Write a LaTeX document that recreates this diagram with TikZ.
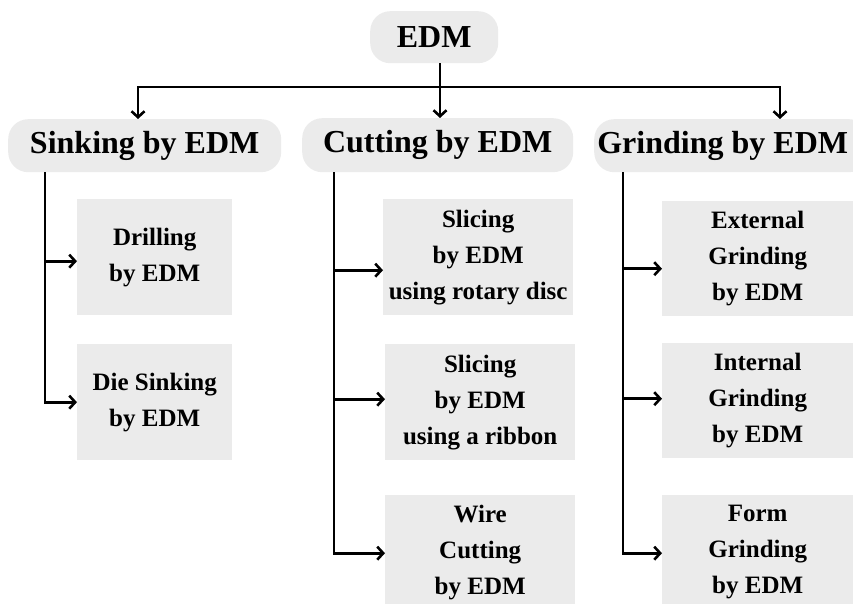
\documentclass[tikz,border=0pt]{standalone}
\usepackage{fontspec}
\setmainfont{Liberation Serif}
\usetikzlibrary{arrows.meta}
\definecolor{boxgray}{HTML}{EBEBEB}
\tikzset{
  x=1pt, y=1pt,
  pill/.style={fill=boxgray, rounded corners=20pt, inner sep=0pt, anchor=north west,
    font=\fontsize{32}{36}\selectfont\bfseries},
  leaf/.style={fill=boxgray, inner sep=0pt, anchor=north west, align=center,
    font=\fontsize{25}{36}\selectfont\bfseries},
  conn/.style={line width=2.8pt},
  arr/.style={line width=2.8pt, -{Straight Barb[length=6pt,width=13pt,line width=2.6pt]}},
  arrr/.style={line width=2.8pt, {Straight Barb[length=6pt,width=13pt,line width=2.6pt]}-{Straight Barb[length=6pt,width=13pt,line width=2.6pt]}}
}
\begin{document}
\begin{tikzpicture}
\useasboundingbox (0,0) rectangle (853,-604);
\clip (0,0) rectangle (853,-604);
% top
\node[pill, minimum width=128pt, minimum height=52pt] (edm) at (370,-11) {EDM};
% categories
\node[pill, minimum width=273pt, minimum height=53pt] (sink) at (8,-119) {Sinking by EDM};
\node[pill, minimum width=271pt, minimum height=54pt] (cut) at (302,-118) {Cutting by EDM};
\node[pill, minimum width=275pt, minimum height=53pt] (grind) at (594,-119) {\hspace*{-18pt}Grinding by EDM};
% sinking leaves
\node[leaf, minimum width=155pt, minimum height=116pt] (drill) at (77,-199) {Drilling\\by EDM};
\node[leaf, minimum width=155pt, minimum height=116pt] (die) at (77,-344) {Die Sinking\\by EDM};
% cutting leaves
\node[leaf, minimum width=190pt, minimum height=116pt] (sl1) at (383,-199) {Slicing\\by EDM\\using rotary disc};
\node[leaf, minimum width=190pt, minimum height=116pt] (sl2) at (385,-344) {Slicing\\by EDM\\using a ribbon};
\node[leaf, minimum width=190pt, minimum height=114pt] (wire) at (385,-495) {Wire\\Cutting\\by EDM};
% grinding leaves
\node[leaf, minimum width=191pt, minimum height=115pt] (ext) at (662,-201) {External\\Grinding\\by EDM};
\node[leaf, minimum width=191pt, minimum height=115pt] (int) at (662,-343) {Internal\\Grinding\\by EDM};
\node[leaf, minimum width=191pt, minimum height=114pt] (form) at (662,-495) {Form\\Grinding\\by EDM};
% top connectors
\coordinate (j) at (440,-87);
\coordinate (jl) at (138,-87);
\coordinate (jr) at (780,-87);
\draw[conn] (edm.south -| j) -- (j);
\draw[arr] (j) -- (j |- cut.north);
\draw[arrr, line join=miter] (jl |- sink.north) -- (jl) -- (jr) -- (jr |- grind.north);
% sinking branch
\coordinate (sx) at (45,-172);
\draw[conn] (sink.south -| sx) -- ([yshift=-1.4pt]sx |- die.west);
\draw[arr] ([yshift=-4pt]sx |- drill.west) -- ([yshift=-4pt]drill.west);
\draw[arr] (sx |- die.west) -- (die.west);
% cutting branch
\coordinate (cx) at (334,-172);
\draw[conn] (cut.south -| cx) -- ([yshift=-2.4pt]cx |- wire.west);
\draw[arr] ([yshift=-13pt]cx |- sl1.west) -- ([yshift=-13pt]sl1.west);
\draw[arr] ([yshift=3pt]cx |- sl2.west) -- ([yshift=3pt]sl2.west);
\draw[arr] ([yshift=-1pt]cx |- wire.west) -- ([yshift=-1pt]wire.west);
% grinding branch
\coordinate (gx) at (623,-172);
\draw[conn] (grind.south -| gx) -- ([yshift=-2.4pt]gx |- form.west);
\draw[arr] ([yshift=-10pt]gx |- ext.west) -- ([yshift=-10pt]ext.west);
\draw[arr] ([yshift=2pt]gx |- int.west) -- ([yshift=2pt]int.west);
\draw[arr] ([yshift=-1pt]gx |- form.west) -- ([yshift=-1pt]form.west);
\end{tikzpicture}
\end{document}
